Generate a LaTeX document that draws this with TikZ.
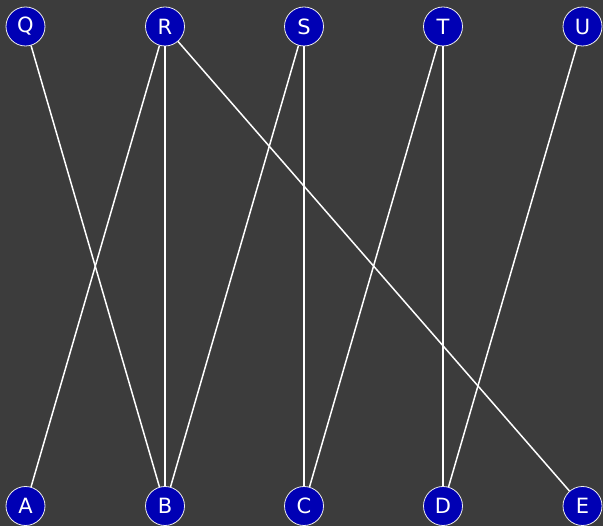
\documentclass[tikz,border=0pt]{standalone}
\usepackage{fontspec}
\setmainfont{DejaVu Sans}
\definecolor{board}{HTML}{3C3C3C}
\definecolor{nodeblue}{HTML}{0000B4}
\begin{document}
\begin{tikzpicture}[x=1pt,y=-1pt,
  vert/.style={circle,fill=nodeblue,draw=white!85!gray,line width=0.8pt,minimum size=39pt,inner sep=0pt,text=white,font=\fontsize{21}{21}\selectfont},
  edge/.style={white,line width=1.5pt}]
\fill[board] (0,0) rectangle (603,526);
\useasboundingbox (0,0) rectangle (603,526);
\node[vert] (Q) at (25.5,26.5) {Q};
\node[vert] (R) at (165,26.5) {R};
\node[vert] (S) at (304,26.5) {S};
\node[vert] (T) at (443,26.5) {T};
\node[vert] (U) at (582.5,26.5) {U};
\node[vert] (A) at (25.5,506) {A};
\node[vert] (B) at (165,506) {B};
\node[vert] (C) at (304,506) {C};
\node[vert] (D) at (443,506) {D};
\node[vert] (E) at (582.5,506) {E};
\draw[edge] (Q) -- (B);
\draw[edge] (R) -- (A);
\draw[edge] (R) -- (B);
\draw[edge] (R) -- (E);
\draw[edge] (S) -- (B);
\draw[edge] (S) -- (C);
\draw[edge] (T) -- (C);
\draw[edge] (T) -- (D);
\draw[edge] (U) -- (D);
\end{tikzpicture}
\end{document}
